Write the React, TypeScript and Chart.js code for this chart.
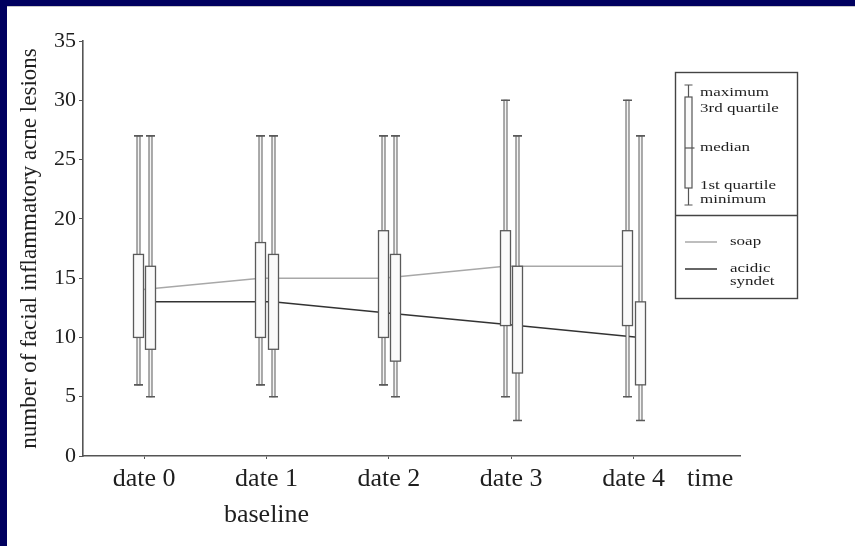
import React, { useEffect, useRef } from "react";
import { Chart, registerables } from "chart.js";

Chart.register(...registerables);

// ---------- data ----------
const categories = ["date 0", "date 1\nbaseline", "date 2", "date 3", "date 4"];
const axisEndLabel = "time";
const yTickValues = [0, 5, 10, 15, 20, 25, 30, 35];
const yTitle = "number of facial inflammatory acne lesions";

const soapMin = [6, 6, 6, 5, 5];
const soapQ1 = [10, 10, 10, 11, 11];
const soapMedian = [14, 15, 15, 16, 16];
const soapQ3 = [17, 18, 19, 19, 19];
const soapMax = [27, 27, 27, 30, 30];

const acidMin = [5, 5, 5, 3, 3];
const acidQ1 = [9, 9, 8, 7, 6];
const acidMedian = [13, 13, 12, 11, 10];
const acidQ3 = [16, 17, 17, 16, 13];
const acidMax = [27, 27, 27, 27, 27];

const seriesNames = ["soap", "acidic\nsyndet"];
const boxLegendLabels = ["maximum", "3rd quartile", "median", "1st quartile", "minimum"];

// ---------- style ----------
const FONT = '"Liberation Serif", "Times New Roman", serif';
const TEXT = "#1e1e1e";
const AXIS = "#555";
const SOAP_COLOR = "#a8a8a8";
const ACID_COLOR = "#333";
const GROUP_OFFSET = 0.051;
const TIME_POS = 4.626;

const boxPlugin = {
  id: "boxes",
  afterDatasetsDraw(chart: any) {
    const { ctx } = chart;
    const x = chart.scales.x;
    const y = chart.scales.y;
    const groups = [
      { min: soapMin, q1: soapQ1, q3: soapQ3, max: soapMax, off: -GROUP_OFFSET },
      { min: acidMin, q1: acidQ1, q3: acidQ3, max: acidMax, off: GROUP_OFFSET },
    ];
    ctx.save();
    groups.forEach((g) => {
      categories.forEach((_, i) => {
        const cx = Math.round(x.getPixelForValue(i + g.off)) + 0.5;
        const yMax = y.getPixelForValue(g.max[i]);
        const yMin = y.getPixelForValue(g.min[i]);
        const yQ1 = y.getPixelForValue(g.q1[i]);
        const yQ3 = y.getPixelForValue(g.q3[i]);
        ctx.strokeStyle = "#5a5a5a";
        ctx.lineWidth = 1;
        // whisker (thin double line)
        ctx.fillStyle = "#f4f4f4";
        ctx.fillRect(cx - 1.5, yMax, 3, yMin - yMax);
        ctx.strokeRect(cx - 1.5, yMax, 3, yMin - yMax);
        // caps
        ctx.lineWidth = 1.6;
        ctx.beginPath();
        ctx.moveTo(cx - 4.5, yMax);
        ctx.lineTo(cx + 4.5, yMax);
        ctx.moveTo(cx - 4.5, yMin);
        ctx.lineTo(cx + 4.5, yMin);
        ctx.stroke();
        // box
        ctx.fillStyle = "#fafafa";
        ctx.lineWidth = 1.3;
        ctx.fillRect(cx - 5, yQ3, 10, yQ1 - yQ3);
        ctx.strokeRect(cx - 5, yQ3, 10, yQ1 - yQ3);
      });
    });
    ctx.restore();
  },
};

function squashText(ctx: any, s: string, px: number, py: number) {
  ctx.save();
  ctx.translate(px, py);
  ctx.scale(1, 0.78);
  ctx.fillText(s, 0, 0);
  ctx.restore();
}

const legendPlugin = {
  id: "boxLegend",
  afterDraw(chart: any) {
    const { ctx } = chart;
    const L = 668, R = 790, T = 66, B = 292, SEP = 209;
    ctx.save();
    ctx.strokeStyle = "#444";
    ctx.lineWidth = 1.4;
    ctx.strokeRect(L + 0.5, T + 0.5, R - L, B - T);
    ctx.beginPath();
    ctx.moveTo(L, SEP + 0.5);
    ctx.lineTo(R, SEP + 0.5);
    ctx.stroke();

    // box icon
    const cx = 681.5;
    const capT = 79, boxT = 91, med = 142, boxB = 182, capB = 199;
    ctx.strokeStyle = "#555";
    ctx.lineWidth = 1.2;
    ctx.beginPath();
    ctx.moveTo(cx, capT);
    ctx.lineTo(cx, capB);
    ctx.moveTo(cx - 4, capT);
    ctx.lineTo(cx + 4, capT);
    ctx.moveTo(cx - 4, capB);
    ctx.lineTo(cx + 4, capB);
    ctx.stroke();
    ctx.fillStyle = "#fafafa";
    ctx.fillRect(cx - 3.5, boxT, 7, boxB - boxT);
    ctx.strokeRect(cx - 3.5, boxT, 7, boxB - boxT);
    ctx.beginPath();
    ctx.moveTo(cx - 3.5, med);
    ctx.lineTo(cx + 6, med);
    ctx.stroke();

    ctx.fillStyle = TEXT;
    ctx.font = `17px ${FONT}`;
    ctx.textAlign = "left";
    ctx.textBaseline = "middle";
    const labelY = [87, 103, 142, 180, 194];
    boxLegendLabels.forEach((s, i) => squashText(ctx, s, 693, labelY[i]));

    // series legend
    const lineY = [236, 263];
    const colors = [SOAP_COLOR, ACID_COLOR];
    seriesNames.forEach((name, i) => {
      ctx.strokeStyle = colors[i];
      ctx.lineWidth = 1.5;
      ctx.beginPath();
      ctx.moveTo(678, lineY[i]);
      ctx.lineTo(710, lineY[i]);
      ctx.stroke();
      name.split("\n").forEach((part, j) => {
        squashText(ctx, part, 723, lineY[i] + j * 13);
      });
    });
    ctx.restore();
  },
};

export default function App() {
  const ref = useRef<HTMLCanvasElement | null>(null);

  useEffect(() => {
    if (!ref.current) return;
    const chart = new Chart(ref.current, {
      type: "line",
      data: {
        datasets: [
          {
            label: "soap",
            data: soapMedian.map((v, i) => ({ x: i - GROUP_OFFSET, y: v })),
            borderColor: SOAP_COLOR,
            borderWidth: 1.5,
            pointRadius: 0,
            tension: 0,
          },
          {
            label: "acidic syndet",
            data: acidMedian.map((v, i) => ({ x: i + GROUP_OFFSET, y: v })),
            borderColor: ACID_COLOR,
            borderWidth: 1.5,
            pointRadius: 0,
            tension: 0,
          },
        ],
      },
      options: {
        animation: false,
        responsive: false,
        devicePixelRatio: 1,
        layout: { padding: { top: 35, right: 115, bottom: 0, left: 0 } },
        plugins: {
          legend: { display: false },
          tooltip: { enabled: false },
        },
        scales: {
          x: {
            type: "linear",
            min: -0.5,
            max: 4.87,
            afterBuildTicks: (scale: any) => {
              scale.ticks = [...categories.map((_, i) => ({ value: i })), { value: TIME_POS }];
            },
            afterFit: (scale: any) => {
              scale.height = 90;
            },
            ticks: {
              autoSkip: false,
              maxRotation: 0,
              padding: 2,
              color: TEXT,
              font: { family: FONT, size: 26, lineHeight: 1.38 },
              callback: (value: any) => {
                const v = Number(value);
                if (Math.abs(v - TIME_POS) < 0.01) return axisEndLabel;
                const idx = Math.round(v);
                const lab = categories[idx];
                return lab ? lab.split("\n") : "";
              },
            },
            grid: {
              drawOnChartArea: false,
              drawTicks: true,
              tickLength: 3,
              color: (c: any) => (c.tick && Math.abs(c.tick.value - TIME_POS) < 0.01 ? "rgba(0,0,0,0)" : AXIS),
            },
            border: { display: true, color: AXIS, width: 1.6 },
          },
          y: {
            type: "linear",
            min: 0,
            max: 35,
            afterBuildTicks: (scale: any) => {
              scale.ticks = yTickValues.map((v) => ({ value: v }));
            },
            afterFit: (scale: any) => {
              scale.width = 76;
            },
            ticks: {
              padding: 3,
              color: TEXT,
              font: { family: FONT, size: 22 },
            },
            grid: {
              drawOnChartArea: false,
              drawTicks: true,
              tickLength: 4,
              color: AXIS,
            },
            border: { display: true, color: AXIS, width: 1.6 },
            title: {
              display: true,
              text: yTitle,
              color: TEXT,
              font: { family: FONT, size: 23 },
              padding: { top: 9, bottom: 0 },
            },
          },
        },
      },
      plugins: [boxPlugin, legendPlugin],
    } as any);
    return () => chart.destroy();
  }, []);

  return (
    <div
      style={{
        position: "absolute",
        left: 0,
        top: 0,
        width: 855,
        height: 546,
        background: "#ffffff",
        overflow: "hidden",
      }}
    >
      <div style={{ position: "absolute", left: 0, top: 0, width: 855, height: 6, background: "#00005f" }} />
      <div style={{ position: "absolute", left: 7, top: 6, width: 848, height: 1, background: "#c8c8c8" }} />
      <div style={{ position: "absolute", left: 0, top: 0, width: 7, height: 546, background: "#00005f" }} />
      <canvas
        ref={ref}
        width={848}
        height={540}
        style={{ position: "absolute", left: 7, top: 6, width: 848, height: 540, display: "block" }}
      />
    </div>
  );
}
